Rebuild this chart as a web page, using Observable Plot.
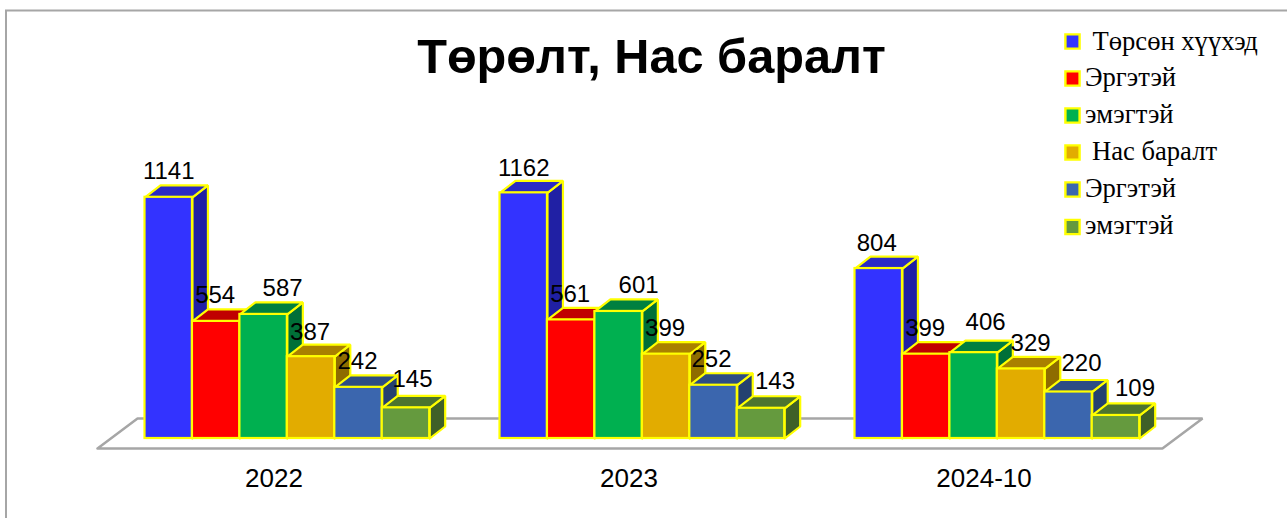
<!DOCTYPE html>
<html>
<head>
<meta charset="utf-8">
<style>html,body{margin:0;padding:0;background:#fff}svg{display:block}</style>
<script src="https://cdn.jsdelivr.net/npm/d3@7"></script>
<script src="https://cdn.jsdelivr.net/npm/@observablehq/plot@0.6"></script>
</head>
<body>
<div id="chart"></div>
<script>
const title = "Төрөлт, Нас баралт";
const years = ["2022", "2023", "2024-10"];
const legendNames = [" Төрсөн хүүхэд", "Эргэтэй", "эмэгтэй", " Нас баралт", "Эргэтэй", "эмэгтэй"];
const births = [1141, 1162, 804];
const birthsMale = [554, 561, 399];
const birthsFemale = [587, 601, 406];
const deaths = [387, 399, 329];
const deathsMale = [242, 252, 220];
const deathsFemale = [145, 143, 109];
const seriesValues = [births, birthsMale, birthsFemale, deaths, deathsMale, deathsFemale];

// face colours per series
const frontColors = ["#3333ff", "#ff0000", "#00b050", "#e2ac00", "#3b66ae", "#659a3e"];
const topColors   = ["#2a2ac4", "#c00000", "#008040", "#a98000", "#2d4d84", "#4c742f"];
const sideColors  = ["#2020a4", "#a00000", "#006f38", "#8e6c00", "#254170", "#3f6028"];

// layout (in scale units)
const barW = 47.45 / 355, depthX = 15.5 / 355, depthY = 12 / 0.2114;
const floorY = [-47, 95], floorX = [[-0.1338, 2.866], [-0.0211, 2.979]];
const yearCenter = 129 / 355;
// label nudges in pixels: [dx, rise above the bar top]
const labelDx = [[0,-1,19,-1,-1,6.5],[0,-1,20,-1,-2,14],[-2,-1,12,9.5,13,19]];
const labelRise = [[18,18,18,17,18,20.5],[17,18,18,18,18,19],[18,18,23,18,21,19]];

const ink = "#000", yellow = "#ffff00", grey = "#a6a6a6";
const sans = "Liberation Sans", serif = "Liberation Serif";

const poly = (pts, opts) => Plot.line([...pts, pts[0]], {x: d => d[0], y: d => d[1], strokeLinejoin: "miter", ...opts});
const marks = [];

marks.push(Plot.frame({stroke: grey, strokeWidth: 2, insetLeft: 5.5, insetTop: 10, insetRight: -6, insetBottom: -6}));

marks.push(poly([
  [floorX[0][0], floorY[0]], [floorX[0][1], floorY[0]],
  [floorX[1][1], floorY[1]], [floorX[1][0], floorY[1]]
], {fill: "#fff", stroke: grey, strokeWidth: 2.5}));

years.forEach((yr, g) => {
  seriesValues.forEach((vals, s) => {
    const v = vals[g], x0 = g + s * barW, x1 = x0 + barW;
    const edge = {stroke: yellow, strokeWidth: 2.2};
    marks.push(poly([[x1, 0], [x1 + depthX, depthY], [x1 + depthX, v + depthY], [x1, v]], {fill: sideColors[s], ...edge}));
    marks.push(poly([[x0, v], [x1, v], [x1 + depthX, v + depthY], [x0 + depthX, v + depthY]], {fill: topColors[s], ...edge}));
    marks.push(Plot.rect([v], {x1: () => x0, x2: () => x1, y1: () => 0, y2: d => d, fill: frontColors[s], ...edge}));
  });
});

years.forEach((yr, g) => {
  seriesValues.forEach((vals, s) => {
    marks.push(Plot.text([vals[g]], {
      x: () => g + (s + 0.5) * barW, y: d => d, text: d => String(d),
      dx: labelDx[g][s], dy: -labelRise[g][s],
      lineAnchor: "bottom", textAnchor: "middle", fontFamily: sans, fontSize: 24, fill: ink
    }));
  });
});

marks.push(Plot.text(years, {
  x: (d, i) => i + yearCenter, y: () => 0, text: d => d, dy: 48,
  lineAnchor: "bottom", textAnchor: "middle", fontFamily: sans, fontSize: 26, fill: ink
}));

marks.push(Plot.text([title], {
  frameAnchor: "top-left", dx: 651, dy: 72, text: d => d,
  lineAnchor: "bottom", textAnchor: "middle", fontFamily: sans, fontWeight: "bold", fontSize: 48.7, fill: ink
}));

const legendRows = [41, 78, 115, 152, 189, 226.5];
const legendBase = [50, 86, 123, 160, 197, 234];
const legendTextX = [1092, 1084.5, 1084.5, 1091.5, 1084.5, 1084.5];
legendNames.forEach((name, i) => {
  marks.push(Plot.dot([name], {
    frameAnchor: "top-left", dx: 1072, dy: legendRows[i], symbol: "square", r: 8,
    fill: frontColors[i], stroke: yellow, strokeWidth: 2.4
  }));
  marks.push(Plot.text([name.trim()], {
    frameAnchor: "top-left", dx: legendTextX[i], dy: legendBase[i] - 1, text: d => d,
    lineAnchor: "bottom", textAnchor: "start", fontFamily: serif, fontSize: 26.6, fill: ink
  }));
});

document.getElementById("chart").append(Plot.plot({
  width: 1287, height: 518, margin: 0,
  style: {background: "#fff"},
  x: {axis: null, domain: [0, 1], range: [144.5, 499.5]},
  y: {axis: null, domain: [0, 1000], range: [438, 226.6]},
  marks
}));
</script>
</body>
</html>
